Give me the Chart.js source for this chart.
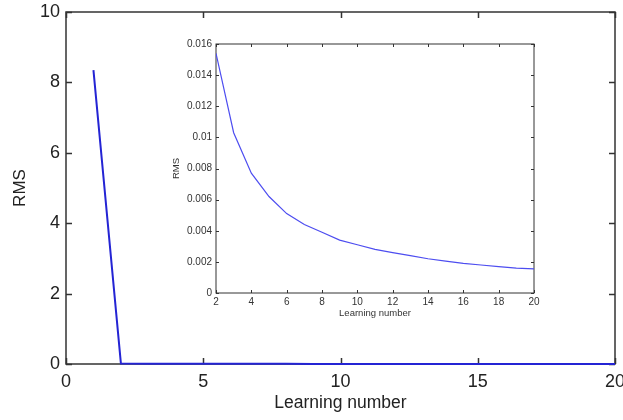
<!DOCTYPE html>
<html>
<head>
<meta charset="utf-8">
<script src="https://cdn.jsdelivr.net/npm/chart.js@4.4.1/dist/chart.umd.min.js"></script>
<style>
  html, body { margin: 0; padding: 0; background: #fff; }
  #wrap { position: relative; width: 623px; height: 420px; overflow: hidden; }
  #main { position: absolute; left: 0; top: 0; }
  #inset { position: absolute; left: 160px; top: 34px; }
</style>
</head>
<body>
<div id="wrap">
  <canvas id="main" width="623" height="420"></canvas>
  <canvas id="inset" width="390" height="285"></canvas>
</div>
<script>
"use strict";

/* ─── DATA ─── */
const learningNumber = [1, 2, 3, 4, 5, 6, 7, 8, 9, 10, 11, 12, 13, 14, 15, 16, 17, 18, 19, 20];
const firstRms = 8.35;
const rmsTail = [0.0154, 0.0103, 0.0077, 0.0062, 0.0051, 0.0044, 0.0039, 0.0034, 0.0031,
                 0.0028, 0.0026, 0.0024, 0.0022, 0.00205, 0.0019, 0.0018, 0.0017, 0.0016, 0.00155];
const mainXTicks = [0, 5, 10, 15, 20];
const mainYTicks = [0, 2, 4, 6, 8, 10];
const insetXTicks = [2, 4, 6, 8, 10, 12, 14, 16, 18, 20];
const insetYTicks = [0, 0.002, 0.004, 0.006, 0.008, 0.01, 0.012, 0.014, 0.016];

const AXIS = "#333333";
const FONT = "'Liberation Sans', Arial, sans-serif";

const mainPts = learningNumber.map((x, i) => ({ x, y: i === 0 ? firstRms : rmsTail[i - 1] }));
const insetPts = learningNumber.slice(1).map((x, i) => ({ x, y: rmsTail[i] }));

/* matlab-style frame with inward ticks, drawn under the data */
function frameTicks(len, width) {
  return {
    id: 'frameTicks',
    beforeDatasetsDraw(chart) {
      const { ctx, chartArea: a, scales: { x, y } } = chart;
      ctx.save();
      ctx.strokeStyle = AXIS;
      ctx.lineWidth = width;
      ctx.strokeRect(a.left, a.top, a.right - a.left, a.bottom - a.top);
      ctx.beginPath();
      x.ticks.forEach(t => {
        const px = Math.round(x.getPixelForValue(t.value)) + 0.5;
        ctx.moveTo(px, a.bottom); ctx.lineTo(px, a.bottom - len);
        ctx.moveTo(px, a.top); ctx.lineTo(px, a.top + len);
      });
      y.ticks.forEach(t => {
        const py = Math.round(y.getPixelForValue(t.value)) + 0.5;
        ctx.moveTo(a.left, py); ctx.lineTo(a.left + len, py);
        ctx.moveTo(a.right, py); ctx.lineTo(a.right - len, py);
      });
      ctx.stroke();
      ctx.restore();
    }
  };
}

function fixedTicks(list) {
  return axis => { axis.ticks = list.map(v => ({ value: v })); };
}

/* ─── MAIN CHART ─── */
new Chart(document.getElementById('main'), {
  type: 'line',
  data: {
    datasets: [{
      data: mainPts,
      borderColor: '#2424d4',
      borderWidth: 2,
      pointRadius: 0,
      tension: 0,
      clip: false,
    }]
  },
  options: {
    responsive: false, animation: false,
    layout: { padding: { left: 10, top: 12, right: 8, bottom: 6 } },
    plugins: { legend: { display: false }, tooltip: { enabled: false } },
    scales: {
      x: {
        type: 'linear', min: 0, max: 20,
        afterBuildTicks: fixedTicks(mainXTicks),
        afterFit: s => { s.height = 50; s.paddingLeft = 0; s.paddingRight = 0; },
        grid: { display: false, drawTicks: false }, border: { display: false },
        ticks: { color: '#222', font: { family: FONT, size: 18 }, padding: 7, maxRotation: 0 },
        title: { display: true, text: 'Learning number', color: '#222', font: { family: FONT, size: 17.5 }, padding: 0 },
      },
      y: {
        min: 0, max: 10,
        afterBuildTicks: fixedTicks(mainYTicks),
        afterFit: s => { s.width = 56; s.paddingTop = 0; s.paddingBottom = 0; },
        grid: { display: false, drawTicks: false }, border: { display: false },
        ticks: { color: '#222', font: { family: FONT, size: 18 }, padding: 6 },
        title: { display: true, text: 'RMS', color: '#222', font: { family: FONT, size: 17 }, padding: 0 },
      },
    }
  },
  plugins: [frameTicks(6, 1.5)]
});

/* ─── INSET CHART ─── */
new Chart(document.getElementById('inset'), {
  type: 'line',
  data: {
    datasets: [{
      data: insetPts,
      borderColor: '#4d4df0',
      borderWidth: 1.2,
      pointRadius: 0,
      tension: 0,
    }]
  },
  options: {
    responsive: false, animation: false,
    layout: { padding: { left: 11, top: 10, right: 16, bottom: 0 } },
    plugins: { legend: { display: false }, tooltip: { enabled: false } },
    scales: {
      x: {
        type: 'linear', min: 2, max: 20,
        afterBuildTicks: fixedTicks(insetXTicks),
        afterFit: s => { s.height = 26; },
        grid: { display: false, drawTicks: false }, border: { display: false },
        ticks: { color: AXIS, font: { family: FONT, size: 10 }, padding: 3, maxRotation: 0 },
        title: { display: true, text: 'Learning number', color: AXIS, font: { family: FONT, size: 9.5 }, padding: 0 },
      },
      y: {
        min: 0, max: 0.016,
        afterBuildTicks: fixedTicks(insetYTicks),
        afterFit: s => { s.width = 45; },
        grid: { display: false, drawTicks: false }, border: { display: false },
        ticks: { color: AXIS, font: { family: FONT, size: 10 }, padding: 4, callback: v => String(+v.toFixed(3)) },
        title: { display: true, text: 'RMS', color: AXIS, font: { family: FONT, size: 9.5 }, padding: 0 },
      },
    }
  },
  plugins: [frameTicks(3, 1)]
});
</script>
</body>
</html>
